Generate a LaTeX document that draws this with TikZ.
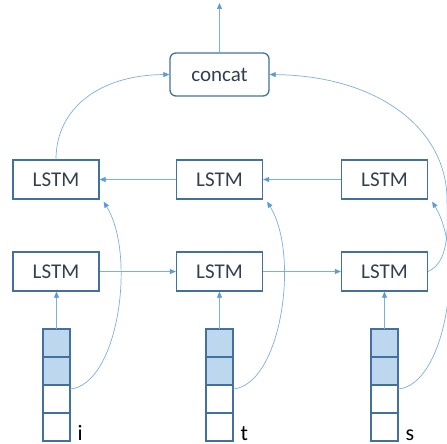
\documentclass[tikz,border=0pt]{standalone}
\usepackage{fontspec}
\setmainfont{Carlito}
\usetikzlibrary{arrows.meta}
\definecolor{edge}{HTML}{41719C}
\definecolor{wire}{HTML}{5B9BD5}
\definecolor{cellfill}{HTML}{BDD7EE}
\definecolor{ink}{HTML}{333F50}
\begin{document}
\begin{tikzpicture}[x=1pt,y=-1pt,>={Triangle[length=6pt,width=5pt,color=wire]},
    lstm/.style={draw=edge,line width=1.3pt,minimum width=86pt,minimum height=39pt,
      inner sep=0pt,text=ink,font=\fontsize{21}{21}\selectfont},
    cell/.style={draw=edge,line width=1.3pt,fill=white,minimum width=27pt,
      minimum height=28pt,inner sep=0pt,outer sep=0pt},
    wire/.style={draw=wire!80,line width=0.7pt}]
    \useasboundingbox (0,0) rectangle (447,444);
    %\draw[ultra thin,gray!20] (0,0) grid[step=20pt] (447,444);
    % concat on top
    \node[lstm,minimum width=99pt,minimum height=43pt,rounded corners=6pt] (cat) at (219.5,74.5) {concat};
    \coordinate (out) at (219.5,3);
    \draw[wire,->] (cat.north) -- (out);
    % backward row
    \node[lstm] (r1) at (56,179.5) {LSTM};
    \node[lstm] (r2) at (219.5,179.5) {LSTM};
    \node[lstm] (r3) at (384.5,179.5) {LSTM};
    % forward row
    \node[lstm] (f1) at (56,271.5) {LSTM};
    \node[lstm] (f2) at (219.5,271.5) {LSTM};
    \node[lstm] (f3) at (384.5,271.5) {LSTM};
    \draw[wire,->] (f1) -- (f2);
    \draw[wire,->] (f2) -- (f3);
    \draw[wire,->] (r3) -- (r2);
    \draw[wire,->] (r2) -- (r1);
    % characters
    \foreach \n/\x/\ch in {1/56.5/i,2/219.5/t,3/384.5/s}{
        \node[cell,fill=cellfill] (c\n a) at (\x,343) {};
        \node[cell,fill=cellfill] (c\n b) at (\x,371) {};
        \node[cell] (c\n c) at (\x,399) {};
        \node[cell] (c\n d) at (\x,427) {};
        \node[anchor=base west,inner sep=0pt,font=\fontsize{22}{22}\selectfont] (ch\n) at (\x+21,440) {\ch};
        \draw[wire,->] (c\n a.north) -- (c\n a.north |- f\n.south);
        \draw[wire,->] ([yshift=10pt]c\n c.east) .. controls +(48,-4) and +(33,54) .. ([xshift=4pt,yshift=-2pt]r\n.south east);
    }
    % last states into concat
    \draw[wire,->] (r1.north) .. controls (56,108) and (100,75) .. (cat.west);
    \draw[wire,->] (f3.east) .. controls (448,262) and (448,235) .. (447,200)
        .. controls (447,130) and (380,76) .. (cat.east);
\end{tikzpicture}
\end{document}
